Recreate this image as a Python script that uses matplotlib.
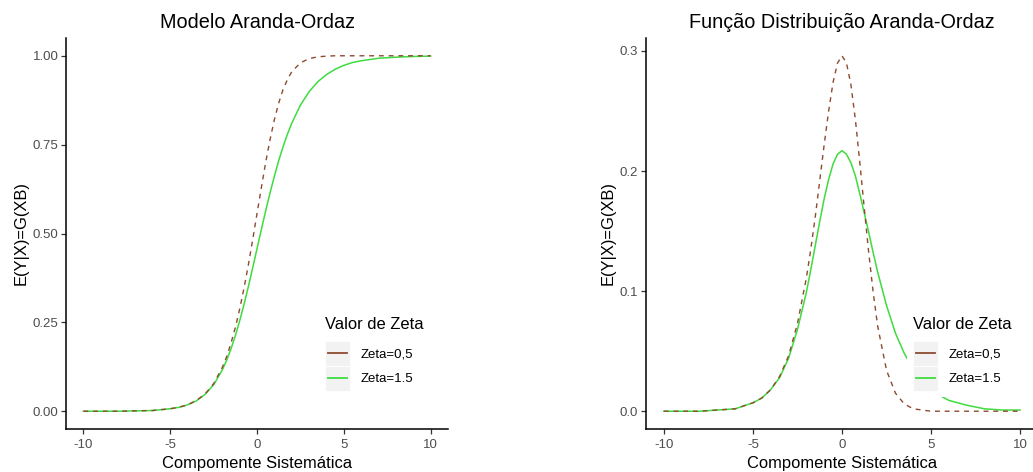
import matplotlib
matplotlib.use("Agg")
import matplotlib.pyplot as plt
from matplotlib.legend_handler import HandlerBase
from matplotlib.patches import Rectangle
from matplotlib.lines import Line2D

plt.rcParams['font.family'] = ['Liberation Sans', 'DejaVu Sans']
plt.rcParams['axes.unicode_minus'] = False

# ---------------- data ----------------
x = [-10, -9, -8, -7, -6, -5, -4.5, -4, -3.5, -3, -2.5, -2, -1.75, -1.5, -1.25,
     -1, -0.75, -0.5, -0.25, 0, 0.25, 0.5, 0.75, 1, 1.25, 1.5, 1.75, 2, 2.5,
     3, 3.5, 4, 4.5, 5, 5.5, 6, 7, 8, 9, 10]

cdf_zeta05 = [0.000, 0.000, 0.000, 0.001, 0.002, 0.007, 0.011, 0.018, 0.030, 0.048,
              0.077, 0.123, 0.153, 0.191, 0.235, 0.287, 0.346, 0.411, 0.482, 0.556,
              0.629, 0.700, 0.764, 0.820, 0.867, 0.905, 0.933, 0.955, 0.980, 0.992,
              0.997, 0.999, 1.000, 1.000, 1.000, 1.000, 1.000, 1.000, 1.000, 1.000]

cdf_zeta15 = [0.000, 0.000, 0.000, 0.001, 0.002, 0.007, 0.011, 0.018, 0.029, 0.047,
              0.074, 0.116, 0.143, 0.175, 0.212, 0.254, 0.300, 0.350, 0.403, 0.457,
              0.511, 0.564, 0.614, 0.661, 0.705, 0.744, 0.779, 0.810, 0.861, 0.899,
              0.927, 0.947, 0.962, 0.973, 0.981, 0.986, 0.993, 0.996, 0.998, 0.999]

pdf_zeta05 = [0.000, 0.000, 0.000, 0.001, 0.002, 0.007, 0.011, 0.018, 0.029, 0.046,
              0.073, 0.111, 0.135, 0.162, 0.192, 0.222, 0.250, 0.274, 0.290, 0.296,
              0.290, 0.272, 0.243, 0.207, 0.169, 0.132, 0.099, 0.071, 0.034, 0.015,
              0.006, 0.002, 0.001, 0.000, 0.000, 0.000, 0.000, 0.000, 0.000, 0.000]

pdf_zeta15 = [0.000, 0.000, 0.000, 0.001, 0.002, 0.007, 0.011, 0.018, 0.028, 0.044,
              0.068, 0.099, 0.118, 0.138, 0.158, 0.177, 0.193, 0.206, 0.214, 0.217,
              0.214, 0.207, 0.196, 0.181, 0.165, 0.149, 0.132, 0.116, 0.088, 0.065,
              0.048, 0.035, 0.025, 0.018, 0.013, 0.009, 0.005, 0.002, 0.001, 0.001]

series_labels = ["Zeta=0,5", "Zeta=1.5"]
legend_title = "Valor de Zeta"
titles = ["Modelo Aranda-Ordaz", "Função Distribuição Aranda-Ordaz"]
xlabel = "Compomente Sistemática"
ylabel = "E(Y|X)=G(XB)"
xticks = [-10, -5, 0, 5, 10]
yticks_left = [0.0, 0.25, 0.5, 0.75, 1.0]
yticks_left_labels = ["0.00", "0.25", "0.50", "0.75", "1.00"]
yticks_right = [0.0, 0.1, 0.2, 0.3]
yticks_right_labels = ["0.0", "0.1", "0.2", "0.3"]

# ---------------- style ----------------
BROWN = '#8E4A30'
GREEN = '#3EDC3E'
TICK_COLOR = '#4D4D4D'
W, H = 1033, 472


class KeyHandler(HandlerBase):
    def __init__(self, color):
        super().__init__()
        self.color = color

    def create_artists(self, legend, orig_handle, xdescent, ydescent,
                       width, height, fontsize, trans):
        rect = Rectangle((-xdescent, -ydescent), width, height,
                         facecolor='#F2F2F2', edgecolor='white', lw=0.6,
                         transform=trans)
        yc = -ydescent + height / 2
        line = Line2D([-xdescent + 0.12 * width, -xdescent + 0.88 * width],
                      [yc, yc], color=self.color, lw=1.3, transform=trans)
        return [rect, line]


fig = plt.figure(figsize=(W / 100, H / 100), dpi=100)
fig.patch.set_facecolor('white')

ax_l = fig.add_axes([66 / W, (H - 429) / H, 382 / W, 391 / H])
# right panel runs past the right edge of the image (cropped in the reference)
ax_r = fig.add_axes([646 / W, (H - 429) / H, 392 / W, 391 / H])


def style_axes(ax, ys_a, ys_b, yticks, yticklabels, title, leg_x):
    ax.plot(x, ys_b, color=GREEN, lw=1.1, zorder=2)
    ax.plot(x, ys_a, color=BROWN, lw=1.0, linestyle=(0, (3.5, 3.5)), zorder=3)
    lo = min(min(ys_a), min(ys_b))
    hi = max(max(ys_a), max(ys_b))
    rng = hi - lo
    ax.set_ylim(lo - 0.05 * rng, hi + 0.05 * rng)
    xr = max(x) - min(x)
    ax.set_xlim(min(x) - 0.05 * xr, max(x) + 0.05 * xr)
    ax.set_xticks(xticks)
    ax.set_xticklabels([str(t) for t in xticks])
    ax.set_yticks(yticks)
    ax.set_yticklabels(yticklabels)
    for s in ['top', 'right']:
        ax.spines[s].set_visible(False)
    for s in ['left', 'bottom']:
        ax.spines[s].set_linewidth(1.1)
        ax.spines[s].set_color('black')
    ax.tick_params(axis='x', length=3.5, width=0.9, color='#333333',
                   labelsize=9.5, labelcolor=TICK_COLOR, pad=4)
    ax.tick_params(axis='y', length=3.5, width=0.9, color='#333333',
                   labelsize=9.5, labelcolor=TICK_COLOR, pad=2)
    ax.set_xlabel(xlabel, fontsize=11.9, color='black', labelpad=3.5)
    ax.set_ylabel(ylabel, fontsize=11.9, color='black', labelpad=3)
    ax.set_title(title, fontsize=14.3, color='black', pad=7)
    handles = [Line2D([], [], color=BROWN), Line2D([], [], color=GREEN)]
    leg = ax.legend(handles, series_labels, title=legend_title,
                    loc='upper left', bbox_to_anchor=(leg_x, 0.32),
                    frameon=True, framealpha=1.0, facecolor='white',
                    edgecolor='none', fancybox=False,
                    fontsize=9.5, title_fontsize=11.9,
                    handlelength=1.9, handleheight=2.54, labelspacing=0.0,
                    handletextpad=0.8, borderpad=0.5, alignment='left',
                    handler_map={handles[0]: KeyHandler(BROWN),
                                 handles[1]: KeyHandler(GREEN)})
    leg._legend_box.sep = 6.2
    leg.set_zorder(10)


style_axes(ax_l, cdf_zeta05, cdf_zeta15, yticks_left, yticks_left_labels,
           titles[0], 0.644)
style_axes(ax_r, pdf_zeta05, pdf_zeta15, yticks_right, yticks_right_labels,
           titles[1], 0.648)

fig.savefig('out.png', dpi=100, facecolor='white')
